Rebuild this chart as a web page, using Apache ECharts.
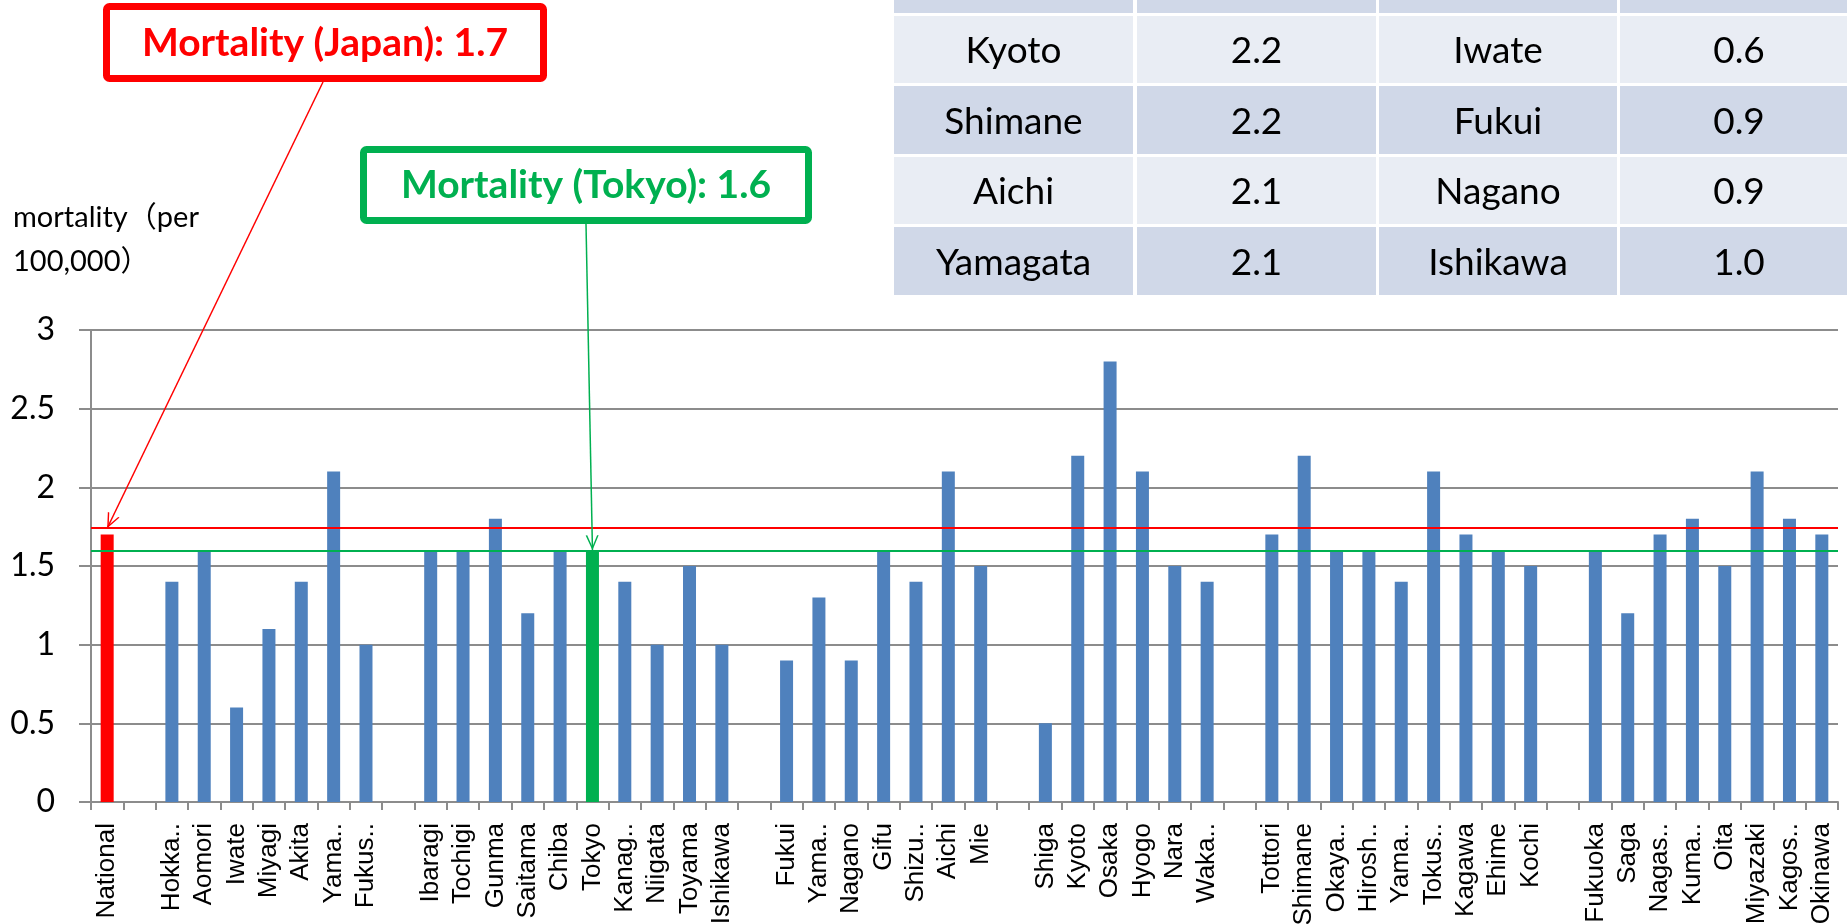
<!DOCTYPE html>
<html>
  <head>
    <meta charset="utf-8" />
    <title>Mortality by prefecture</title>
    <script src="https://cdn.jsdelivr.net/npm/echarts@6/dist/echarts.min.js"></script>
    <style>
      html, body { margin: 0; padding: 0; background: #fff; }
    </style>
  </head>
  <body>
    <div id="main" style="width: 1847px;height:924px;"></div>
    <script type="text/javascript">
      // categories as printed under the axis ('' = spacer between regions)
      var categories = ['National', '', 'Hokka..', 'Aomori', 'Iwate', 'Miyagi', 'Akita', 'Yama..', 'Fukus..', '',
        'Ibaragi', 'Tochigi', 'Gunma', 'Saitama', 'Chiba', 'Tokyo', 'Kanag..', 'Niigata', 'Toyama', 'Ishikawa', '',
        'Fukui', 'Yama..', 'Nagano', 'Gifu', 'Shizu..', 'Aichi', 'Mie', '',
        'Shiga', 'Kyoto', 'Osaka', 'Hyogo', 'Nara', 'Waka..', '',
        'Tottori', 'Shimane', 'Okaya..', 'Hirosh..', 'Yama..', 'Tokus..', 'Kagawa', 'Ehime', 'Kochi', '',
        'Fukuoka', 'Saga', 'Nagas..', 'Kuma..', 'Oita', 'Miyazaki', 'Kagos..', 'Okinawa'];

      var mortality = [1.7, null, 1.4, 1.6, 0.6, 1.1, 1.4, 2.1, 1.0, null,
        1.6, 1.6, 1.8, 1.2, 1.6, 1.6, 1.4, 1.0, 1.5, 1.0, null,
        0.9, 1.3, 0.9, 1.6, 1.4, 2.1, 1.5, null,
        0.5, 2.2, 2.8, 2.1, 1.5, 1.4, null,
        1.7, 2.2, 1.6, 1.6, 1.4, 2.1, 1.7, 1.6, 1.5, null,
        1.6, 1.2, 1.7, 1.8, 1.5, 2.1, 1.8, 1.7];

      var yTicks = [0, 0.5, 1, 1.5, 2, 2.5, 3];

      // reference lines as drawn in the picture
      var japanLine = 1.74;
      var tokyoLine = 1.6;
      var japanIndex = 0;
      var tokyoIndex = 15;

      // top-right table
      var highNames = ['Kyoto', 'Shimane', 'Aichi', 'Yamagata'];
      var highValues = [2.2, 2.2, 2.1, 2.1];
      var lowNames = ['Iwate', 'Fukui', 'Nagano', 'Ishikawa'];
      var lowValues = [0.6, 0.9, 0.9, 1.0];

      var RED = '#FF0000';
      var GREEN = '#00B050';
      var BLUE = '#4F81BD';
      var GRID = '#8c8c8c';
      var calibri = 'Lato, "Noto Sans CJK JP", sans-serif';

      var myChart = echarts.init(document.getElementById('main'));

      var barData = mortality.map(function (v, i) {
        var c = i === japanIndex ? RED : (i === tokyoIndex ? GREEN : BLUE);
        return { value: v, itemStyle: { color: c } };
      });

      // open "V" arrow head, tip at the centre of its box
      var arrowHead = 'path://M5,-10L5.01,-10L5,-9.99Z M0,10L5,0L10,10L8.8,10L5,2.4L1.2,10Z';

      // table cells
      var tableEls = [];
      var colL = [894, 1137, 1379, 1620];
      var colR = [1133, 1376, 1617, 1870];
      var rowT = [16, 86, 157, 227];
      var rowB = [83, 154, 224, 295];
      var light = '#E9EDF4', dark = '#D0D8E8';
      // header row (cut off at the top)
      for (var c = 0; c < 4; c++) {
        tableEls.push({ type: 'rect', shape: { x: colL[c], y: -60, width: colR[c] - colL[c], height: 73 },
          style: { fill: dark } });
      }
      for (var r = 0; r < 4; r++) {
        var cells = [highNames[r], highValues[r].toFixed(1), lowNames[r], lowValues[r].toFixed(1)];
        for (var c2 = 0; c2 < 4; c2++) {
          tableEls.push({ type: 'rect', shape: { x: colL[c2], y: rowT[r], width: colR[c2] - colL[c2], height: rowB[r] - rowT[r] },
            style: { fill: r % 2 === 0 ? light : dark } });
          tableEls.push({ type: 'text', x: (colL[c2] + Math.min(colR[c2], 1858)) / 2, y: (rowT[r] + rowB[r]) / 2 + 2,
            style: { text: cells[c2], fill: '#000', font: '37px ' + calibri, align: 'center', verticalAlign: 'middle' } });
        }
      }

      var option = {
        animation: false,
        title: {
          text: 'mortality（per\n100,000）',
          left: 13,
          top: 196,
          padding: 0,
          textStyle: { fontFamily: calibri, fontSize: 29, fontWeight: 'normal', color: '#000', lineHeight: 44 }
        },
        grid: { left: 91, right: 9, top: 330, bottom: 122, containLabel: false, outerBoundsMode: 'none' },
        xAxis: {
          type: 'category',
          data: categories,
          axisLine: { lineStyle: { color: GRID, width: 2 } },
          axisTick: { show: true, length: 8, lineStyle: { color: GRID, width: 2 } },
          axisLabel: {
            interval: 0, rotate: 90, margin: 21,
            fontFamily: '"Liberation Sans", Arial, sans-serif', fontSize: 26, color: '#000'
          }
        },
        yAxis: {
          type: 'value',
          min: yTicks[0],
          max: yTicks[yTicks.length - 1],
          interval: yTicks[1] - yTicks[0],
          axisLine: { show: true, lineStyle: { color: GRID, width: 2 } },
          axisTick: { show: true, length: 12, lineStyle: { color: GRID, width: 2 } },
          splitLine: { lineStyle: { color: GRID, width: 2 } },
          axisLabel: { margin: 36, fontFamily: calibri, fontSize: 32, color: '#000' }
        },
        series: [
          {
            name: 'mortality',
            type: 'bar',
            barWidth: 13,
            data: barData,
            markLine: {
              silent: true,
              symbol: ['none', 'none'],
              label: { show: false },
              data: [
                { yAxis: japanLine, lineStyle: { color: RED, width: 2, type: 'solid' } },
                { yAxis: tokyoLine, lineStyle: { color: GREEN, width: 2, type: 'solid' } },
                [
                  { x: 323, y: 82, symbol: 'none', lineStyle: { color: RED, width: 1.5, type: 'solid' } },
                  { coord: [japanIndex, japanLine], symbol: arrowHead, symbolSize: [13, 30] }
                ],
                [
                  { x: 586, y: 224, symbol: 'none', lineStyle: { color: GREEN, width: 1.5, type: 'solid' } },
                  { coord: [tokyoIndex, tokyoLine], symbol: arrowHead, symbolSize: [13, 30] }
                ]
              ]
            }
          }
        ],
        graphic: [
          { type: 'group', children: tableEls },
          {
            type: 'group',
            children: [
              { type: 'rect', shape: { x: 106.5, y: 6.5, width: 437, height: 72, r: 3 },
                style: { fill: '#fff', stroke: RED, lineWidth: 7 } },
              { type: 'text', x: 325, y: 43,
                style: { text: 'Mortality (Japan): 1.7', fill: RED, font: 'bold 39px ' + calibri, align: 'center', verticalAlign: 'middle' } },
              { type: 'rect', shape: { x: 363.5, y: 149.5, width: 445, height: 71, r: 3 },
                style: { fill: '#fff', stroke: GREEN, lineWidth: 7 } },
              { type: 'text', x: 586, y: 185,
                style: { text: 'Mortality (Tokyo): 1.6', fill: GREEN, font: 'bold 39px ' + calibri, align: 'center', verticalAlign: 'middle' } }
            ]
          }
        ]
      };

      myChart.setOption(option);
    </script>
  </body>
</html>
